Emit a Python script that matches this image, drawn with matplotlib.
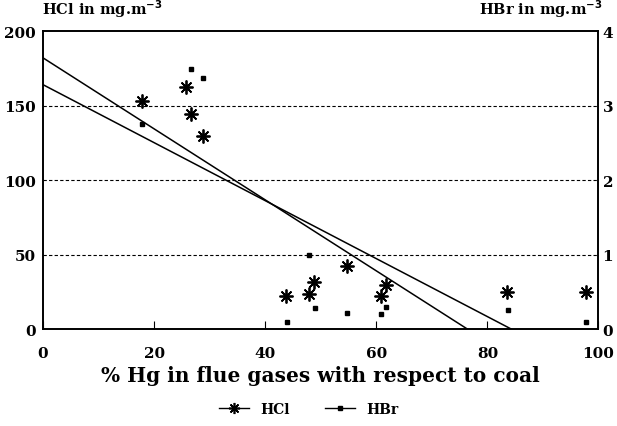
import numpy as np
import matplotlib
matplotlib.use("Agg")
import matplotlib.pyplot as plt

# % Hg in flue gases vs. HCl (left axis) and HBr (right axis)
hcl_x = [17.9, 25.7, 26.7, 28.75, 43.8, 47.8, 48.75, 54.8, 60.8, 61.7, 83.6, 97.7]
hcl_y = [153, 162.5, 144, 129.5, 22.5, 23.5, 31.5, 42, 22.5, 29.5, 25, 25]

hbr_x = [17.9, 26.7, 28.75, 43.9, 47.8, 48.9, 54.8, 60.8, 61.7, 83.7, 97.7]
hbr_y = [2.75, 3.49, 3.37, 0.09, 0.99, 0.28, 0.22, 0.20, 0.30, 0.25, 0.10]

# regression lines (left axis units): intercept, x where line reaches 0
fit_a = (182, 76.4)
fit_b = (164, 84.3)

plt.rcParams['font.family'] = ['DejaVu Serif']
plt.rcParams['font.weight'] = 'bold'

fig = plt.figure(figsize=(6.17, 4.27), dpi=100)
ax = fig.add_axes([0.0697, 0.227, 0.9003, 0.698])
ax2 = ax.twinx()

for b0, x0 in (fit_a, fit_b):
    xs = np.array([0, x0])
    ax.plot(xs, b0 - b0 / x0 * xs, color='black', lw=1.1, zorder=3)

ax.plot(hcl_x, hcl_y, ls='none', marker=(8, 2, 0), ms=10, mew=1.3,
        color='black', zorder=4)
ax2.plot(hbr_x, hbr_y, ls='none', marker='s', ms=3, color='black', zorder=4)

for v in (50, 100, 150):
    ax.axhline(v, color='black', lw=0.8, ls=(0, (3, 2)), zorder=1)

ax.set_xlim(0, 100)
ax.set_ylim(0, 200)
ax2.set_ylim(0, 4)
ax.set_xticks([0, 20, 40, 60, 80, 100])
ax.set_yticks([0, 50, 100, 150, 200])
ax2.set_yticks([0, 1, 2, 3, 4])
ax.tick_params(axis='x', direction='in', length=6, labelsize=11, pad=12)
ax.tick_params(axis='y', direction='in', length=0, labelsize=11, pad=5)
ax2.tick_params(axis='y', direction='in', length=0, labelsize=11, pad=3)
for a in (ax, ax2):
    for s in a.spines.values():
        s.set_linewidth(1.2)

ax.set_xlabel('% Hg in flue gases with respect to coal', fontsize=14.5,
              fontweight='bold', labelpad=4)
fig.text(0.068, 0.952, 'HCl in mg.m$^{-3}$', fontsize=10.5, fontweight='bold',
         ha='left', va='bottom')
fig.text(0.977, 0.952, 'HBr in mg.m$^{-3}$', fontsize=10.5, fontweight='bold',
         ha='right', va='bottom')

h1, = ax.plot([], [], color='black', lw=1, marker=(8, 2, 0), ms=8, mew=1.2)
h2, = ax.plot([], [], color='black', lw=1, marker='s', ms=3)
fig.legend([h1, h2], ['HCl', 'HBr'], loc='center', bbox_to_anchor=(0.5, 0.04),
           ncol=2, frameon=False, fontsize=10, handlelength=2.2,
           columnspacing=2.5)

fig.savefig('out.png', dpi=100)
